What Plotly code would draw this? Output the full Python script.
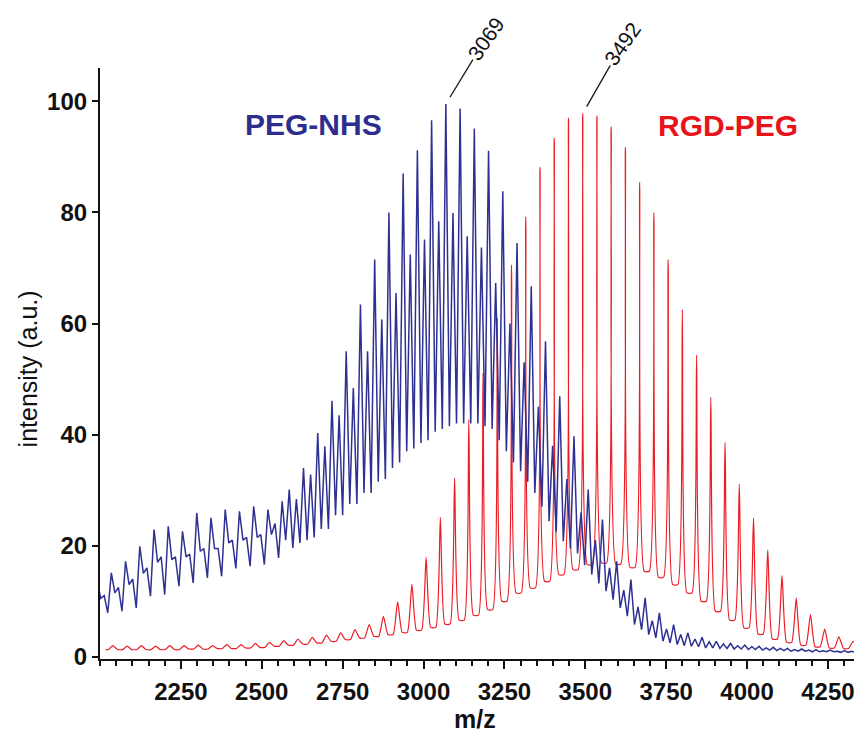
import plotly.graph_objects as go

# ---------------- data ----------------
# PEG-NHS: main series peaks (m/z), their heights, the +22 (Na adduct) series heights,
# and the valleys after the main peak and after the adduct peak
blue_mz = [1969, 2013, 2057, 2101, 2145, 2189, 2233, 2277, 2321, 2365, 2409, 2453, 2497, 2541,
           2585, 2629, 2673, 2717, 2761, 2805, 2849, 2893, 2937, 2981, 3025, 3069, 3113, 3157,
           3201, 3245, 3289, 3333, 3377, 3421, 3465, 3509, 3553, 3597, 3641, 3685, 3729, 3773,
           3817, 3861, 3905, 3949, 3993, 4037, 4081, 4125, 4169, 4213, 4257, 4301, 4345]
blue_main = [9.0, 11.0, 12.5, 14.0, 16.0, 18.0, 18.0, 18.5, 19.5, 19.5, 21.0, 21.5, 22.0, 24.0,
             30.1, 34.0, 40.3, 46.1, 55.0, 63.4, 71.5, 80.0, 87.0, 91.2, 96.6, 99.5, 98.7, 95.1,
             91.1, 83.8, 74.5, 66.7, 56.8, 46.9, 39.7, 30.1, 24.7, 17.2, 13.9, 10.6, 7.9, 5.8,
             4.3, 3.5, 2.8, 2.4, 2.1, 1.9, 1.7, 1.5, 1.4, 1.3, 1.2, 1.1, 1.0]
blue_adduct = [14.0, 15.1, 17.2, 19.9, 22.9, 23.5, 22.6, 25.9, 25.0, 26.5, 26.2, 27.1, 26.5, 28.0,
               28.4, 32.8, 37.9, 43.5, 48.4, 55.0, 60.7, 65.5, 72.4, 75.1, 78.4, 79.9, 75.7, 73.7,
               67.3, 60.0, 53.0, 45.0, 38.0, 32.0, 26.0, 21.0, 16.0, 12.0, 9.0, 6.5, 5.0, 4.0,
               3.2, 2.7, 2.3, 2.0, 1.8, 1.6, 1.5, 1.3, 1.2, 1.1, 1.0, 1.0, 0.9]
blue_valley_a = [7.5, 7.9, 8.2, 8.8, 10.9, 11.2, 12.7, 13.3, 14.2, 14.5, 15.9, 16.3, 16.6, 17.8,
                 19.6, 21.0, 23.0, 25.5, 27.5, 29.5, 31.5, 34.0, 37.0, 38.5, 40.5, 41.5, 42.0, 42.0,
                 41.0, 37.0, 33.4, 29.5, 24.4, 20.8, 18.6, 14.8, 11.8, 8.8, 5.8, 4.0, 2.8, 2.2,
                 1.9, 1.6, 1.5, 1.4, 1.3, 1.2, 1.1, 1.0, 1.0, 0.9, 0.9, 0.8, 0.8]
blue_valley_b = [10.5, 11.5, 13.0, 15.0, 17.0, 17.5, 18.0, 19.0, 19.5, 20.5, 21.0, 21.5, 22.0, 21.0,
                 20.5, 21.5, 23.0, 25.5, 27.5, 29.5, 32.0, 35.0, 37.5, 39.0, 41.0, 42.0, 42.0, 41.5,
                 39.0, 35.0, 31.5, 27.0, 22.5, 19.5, 16.5, 13.2, 10.3, 7.3, 4.9, 3.4, 2.5, 2.0,
                 1.8, 1.6, 1.5, 1.4, 1.3, 1.2, 1.1, 1.0, 0.9, 0.9, 0.8, 0.8, 0.8]
ADDUCT_SHIFT = 22   # Da, +Na series
REPEAT = 44         # Da, ethylene-oxide repeat unit

# RGD-PEG: peaks and the valleys between them (one more valley than peaks)
red_mz = [2040, 2084, 2128, 2172, 2216, 2260, 2304, 2348, 2392, 2436, 2480, 2524, 2568, 2612,
          2656, 2700, 2744, 2788, 2832, 2876, 2920, 2964, 3008, 3052, 3096, 3140, 3184, 3228,
          3272, 3316, 3360, 3404, 3448, 3492, 3536, 3580, 3624, 3668, 3712, 3756, 3800, 3844,
          3888, 3932, 3976, 4020, 4064, 4108, 4152, 4196, 4240, 4284, 4328, 4372]
red_peak = [2.0, 1.9, 2.0, 1.9, 2.0, 2.0, 2.1, 2.0, 2.2, 2.2, 2.4, 2.6, 2.9, 3.2,
            3.5, 3.9, 4.3, 4.9, 5.8, 7.3, 9.9, 13.1, 17.9, 25.1, 32.2, 42.7, 51.1, 61.0,
            70.5, 79.2, 88.1, 93.4, 97.0, 97.8, 97.4, 95.4, 91.7, 85.4, 79.9, 71.5, 62.5, 54.3,
            46.7, 38.6, 31.1, 25.0, 19.2, 14.6, 10.6, 7.6, 5.0, 3.6, 2.8, 2.3]
red_valley = [1.3, 1.3, 1.3, 1.3, 1.3, 1.3, 1.4, 1.4, 1.5, 1.5, 1.6, 1.7, 1.9, 2.1,
              2.3, 2.5, 2.8, 3.1, 3.4, 3.7, 4.0, 4.4, 4.8, 5.3, 5.9, 6.6, 7.5, 8.5,
              10.0, 11.5, 12.4, 13.6, 14.8, 15.7, 16.6, 16.9, 16.7, 16.1, 15.4, 14.3, 13.0, 11.5,
              10.0, 8.2, 6.6, 5.2, 4.1, 3.2, 2.6, 2.1, 1.8, 1.6, 1.5, 1.4, 1.3]

labelled_peaks = ["3069", "3492"]
x_ticks = [2250, 2500, 2750, 3000, 3250, 3500, 3750, 4000, 4250]
y_ticks = [0, 20, 40, 60, 80, 100]

# ---------------- build the profiles ----------------
bx, by = [], []
for m, a, va, b, vb in zip(blue_mz, blue_main, blue_valley_a, blue_adduct, blue_valley_b):
    bx += [m, m + ADDUCT_SHIFT / 2, m + ADDUCT_SHIFT, (m + ADDUCT_SHIFT + m + REPEAT) / 2]
    by += [a, va, b, vb]

PEAK_HALF_BASE = 14  # drawing width of a red peak foot (style)
rx, ry = [red_mz[0] - REPEAT / 2], [red_valley[0]]
for m, p, v_left, v_right in zip(red_mz, red_peak, red_valley[:-1], red_valley[1:]):
    rx += [m - PEAK_HALF_BASE, m, m + PEAK_HALF_BASE]
    ry += [v_left, p, v_right]
rx.append(red_mz[-1] + REPEAT / 2)
ry.append(red_valley[-1])

BLUE = "#2e3192"
RED = "#ec1c24"

fig = go.Figure()
fig.add_trace(go.Scatter(x=rx, y=ry, mode="lines",
                         line=dict(color=RED, width=1.2, shape="spline", smoothing=0.5),
                         name="RGD-PEG", hoverinfo="x+y"))
fig.add_trace(go.Scatter(x=bx, y=by, mode="lines", line=dict(color=BLUE, width=1.5),
                         name="PEG-NHS", hoverinfo="x+y"))

FONT = "Liberation Sans, Arial, sans-serif"

# peak labels
peak_y = {str(m): h for m, h in zip(blue_mz, blue_main)}
peak_y.update({str(m): h for m, h in zip(red_mz, red_peak)})
label_offsets = {"3069": (40, -66), "3492": (40, -70)}
for lab in labelled_peaks:
    ax, ay = label_offsets[lab]
    fig.add_annotation(x=int(lab), y=peak_y[lab], text=lab, textangle=-55,
                       showarrow=True, arrowhead=0, arrowwidth=1.4, arrowcolor="#222",
                       ax=ax, ay=ay, standoff=8,
                       font=dict(family=FONT, size=21, color="#111"))

fig.add_annotation(x=0.277, y=0.905, xref="paper", yref="paper", text="PEG-NHS",
                   xanchor="center", yanchor="middle", showarrow=False,
                   font=dict(family=FONT, size=30, color="#2b2e8c", weight="bold"))
fig.add_annotation(x=0.815, y=0.902, xref="paper", yref="paper", text="RGD-PEG",
                   xanchor="center", yanchor="middle", showarrow=False,
                   font=dict(family=FONT, size=30, color="#e8141c", weight="bold"))

# axis titles
fig.add_annotation(x=0, y=0.49, xref="paper", yref="paper", text="intensity (a.u.)",
                   textangle=-90, showarrow=False, xshift=-72,
                   xanchor="center", yanchor="middle",
                   font=dict(family=FONT, size=25, color="#111"))
fig.add_annotation(x=0.487, y=0, xref="paper", yref="paper", text="m/z",
                   showarrow=False, yshift=-60, xanchor="center", yanchor="middle",
                   font=dict(family=FONT, size=25, color="#111", weight="bold"))

fig.update_layout(
    width=862, height=736,
    margin=dict(l=92, r=0, t=60, b=85),
    paper_bgcolor="white", plot_bgcolor="white",
    showlegend=False,
    font=dict(family=FONT, color="#111"),
)
fig.update_xaxes(range=[2000, 4380], tickvals=x_ticks, ticktext=[str(t) for t in x_ticks],
                 showline=True, linecolor="#111", linewidth=2.2, mirror=False,
                 ticks="outside", ticklen=8, tickwidth=2, tickcolor="#111",
                 ticklabelstandoff=2,
                 minor=dict(dtick=50, tick0=2000, ticks="outside", ticklen=5, tickwidth=1.5,
                            tickcolor="#111", showgrid=False),
                 showgrid=False, zeroline=False,
                 tickfont=dict(family=FONT, size=24, color="#111", weight="bold"))
fig.update_yaxes(range=[-0.4, 106], tickvals=y_ticks, ticktext=[str(t) for t in y_ticks],
                 showline=True, linecolor="#111", linewidth=2.2,
                 ticks="outside", ticklen=6, tickwidth=2, tickcolor="#111",
                 showgrid=False, zeroline=False,
                 tickfont=dict(family=FONT, size=24, color="#111", weight="bold"))

fig.write_html("out.html")
